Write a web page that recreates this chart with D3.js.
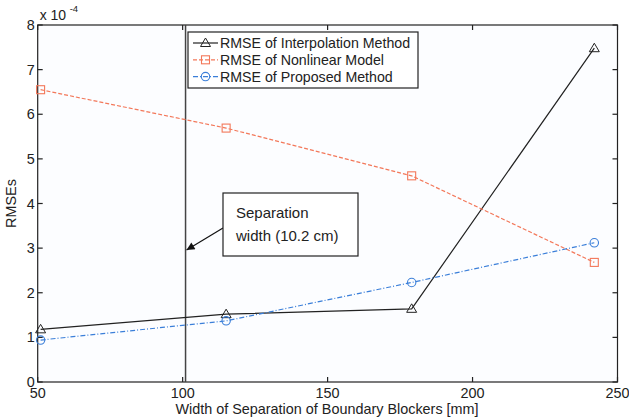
<!DOCTYPE html>
<html><head><meta charset="utf-8">
<script src="https://cdn.jsdelivr.net/npm/d3@7"></script>
<style>body{margin:0;background:#fff}svg{display:block}text{font-family:"Liberation Sans",Arial,sans-serif;fill:#222}</style>
</head><body><svg id="c" width="629" height="420"></svg>
<script>
const widths = [51, 115, 179, 242];
const interpolation = [1.18, 1.52, 1.64, 7.48];
const nonlinear = [6.55, 5.69, 4.62, 2.68];
const proposed = [0.94, 1.37, 2.23, 3.12];
const xTicks = [50, 100, 150, 200, 250];
const yTicks = [0, 1, 2, 3, 4, 5, 6, 7, 8];
const separation = 101;
const legendLabels = ["RMSE of Interpolation Method", "RMSE of Nonlinear Model", "RMSE of Proposed Method"];

const svg = d3.select("#c");
const L = 37.7, R = 617.5, T = 25, B = 382;
const x = d3.scaleLinear().domain([50, 250]).range([L, R]);
const y = d3.scaleLinear().domain([0, 8]).range([B, T]);

svg.append("rect").attr("x", L).attr("y", T).attr("width", R - L).attr("height", B - T).attr("fill", "#fcfdff");

// axes (MATLAB box style, inward ticks)
const ax = svg.append("g").attr("stroke", "#222").attr("stroke-width", 1.2);
ax.append("rect").attr("x", L).attr("y", T).attr("width", R - L).attr("height", B - T).attr("fill", "none");
const tk = 5;
xTicks.forEach(v => {
  ax.append("line").attr("x1", x(v)).attr("x2", x(v)).attr("y1", B).attr("y2", B - tk);
  ax.append("line").attr("x1", x(v)).attr("x2", x(v)).attr("y1", T).attr("y2", T + tk);
});
yTicks.forEach(v => {
  ax.append("line").attr("x1", L).attr("x2", L + tk).attr("y1", y(v)).attr("y2", y(v));
  ax.append("line").attr("x1", R).attr("x2", R - tk).attr("y1", y(v)).attr("y2", y(v));
});
svg.selectAll(".xt").data(xTicks).enter().append("text").attr("x", d => x(d)).attr("y", B + 15.5)
  .attr("text-anchor", "middle").attr("font-size", 14.4).text(d => d);
svg.selectAll(".yt").data(yTicks).enter().append("text").attr("x", L - 3).attr("y", d => y(d) + 5)
  .attr("text-anchor", "end").attr("font-size", 14.4).text(d => d);
svg.append("text").attr("x", L + 2).attr("y", 20).attr("font-size", 14).text("x 10");
svg.append("text").attr("x", L + 32).attr("y", 12).attr("font-size", 9.5).text("-4");
svg.append("text").attr("x", 327).attr("y", 414).attr("text-anchor", "middle").attr("font-size", 14.4)
  .text("Width of Separation of Boundary Blockers [mm]");
svg.append("text").attr("transform", `translate(16,${(T + B) / 2}) rotate(-90)`).attr("text-anchor", "middle")
  .attr("font-size", 14.4).text("RMSEs");

// separation line
svg.append("line").attr("x1", x(separation)).attr("x2", x(separation)).attr("y1", T).attr("y2", B)
  .attr("stroke", "#444").attr("stroke-width", 1.5);

const line = d3.line().x((d, i) => x(widths[i])).y(d => y(d));
const series = [
  {data: interpolation, color: "#222", dash: null, marker: "tri"},
  {data: nonlinear, color: "#f3785a", dash: "4,2", marker: "sq"},
  {data: proposed, color: "#3b7fd9", dash: "5,2,1,2", marker: "circ"}
];
function marker(g, type, cx, cy, color) {
  if (type === "tri") g.append("path").attr("d", `M${cx},${cy - 5}L${cx + 5},${cy + 3.5}L${cx - 5},${cy + 3.5}Z`)
    .attr("fill", "none").attr("stroke", color).attr("stroke-width", 1);
  else if (type === "sq") g.append("rect").attr("x", cx - 4).attr("y", cy - 4).attr("width", 8).attr("height", 8)
    .attr("fill", "none").attr("stroke", color).attr("stroke-width", 1.1);
  else g.append("circle").attr("cx", cx).attr("cy", cy).attr("r", 4.2)
    .attr("fill", "none").attr("stroke", color).attr("stroke-width", 1.1);
}
series.forEach(s => {
  svg.append("path").attr("d", line(s.data)).attr("fill", "none").attr("stroke", s.color)
    .attr("stroke-width", 1.2).attr("stroke-dasharray", s.dash);
  const g = svg.append("g");
  s.data.forEach((v, i) => marker(g, s.marker, x(widths[i]), y(v), s.color));
});

// legend
const lg = svg.append("g");
lg.append("rect").attr("x", 188).attr("y", 32).attr("width", 230).attr("height", 56)
  .attr("fill", "#fff").attr("stroke", "#222").attr("stroke-width", 1.2);
series.forEach((s, i) => {
  const ly = 43 + i * 16.8;
  lg.append("line").attr("x1", 193).attr("x2", 218).attr("y1", ly).attr("y2", ly)
    .attr("stroke", s.color).attr("stroke-width", 1.2).attr("stroke-dasharray", s.dash);
  marker(lg, s.marker, 205.5, ly, s.color);
  lg.append("text").attr("x", 220).attr("y", ly + 5).attr("font-size", 14.2).text(legendLabels[i]);
});

// annotation
svg.append("defs").append("marker").attr("id", "ah").attr("viewBox", "0 0 10 10").attr("refX", 10).attr("refY", 5)
  .attr("markerWidth", 10).attr("markerHeight", 8).attr("markerUnits", "userSpaceOnUse").attr("orient", "auto")
  .append("path").attr("d", "M0,0L10,5L0,10Z").attr("fill", "#111");
svg.append("line").attr("x1", 223).attr("y1", 228).attr("x2", x(separation) + 1).attr("y2", 250)
  .attr("stroke", "#111").attr("stroke-width", 1.2).attr("marker-end", "url(#ah)");
svg.append("rect").attr("x", 223).attr("y", 193).attr("width", 135).attr("height", 63)
  .attr("fill", "#fff").attr("stroke", "#222").attr("stroke-width", 1.2);
svg.append("text").attr("x", 236).attr("y", 218).attr("font-size", 15).text("Separation");
svg.append("text").attr("x", 236).attr("y", 241).attr("font-size", 15).text("width (10.2 cm)");
</script></body></html>
